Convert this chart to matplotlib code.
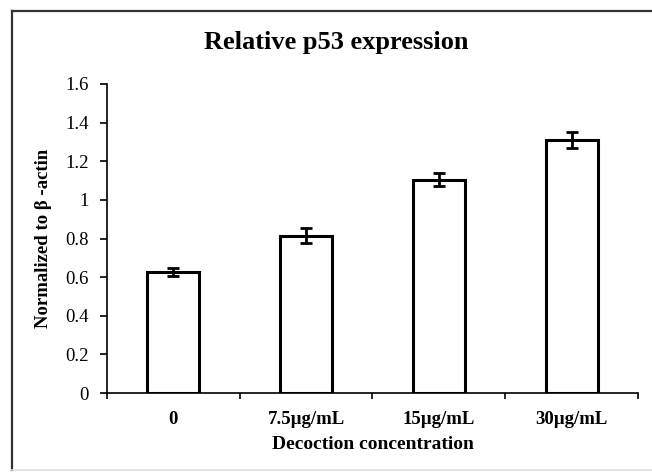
import matplotlib
matplotlib.use("Agg")
import matplotlib.pyplot as plt
from matplotlib.lines import Line2D

categories = ["0", "7.5\u00b5g/mL", "15\u00b5g/mL", "30\u00b5g/mL"]
values = [0.625, 0.815, 1.105, 1.31]
errors = [0.02, 0.04, 0.035, 0.04]
yticks = [0, 0.2, 0.4, 0.6, 0.8, 1.0, 1.2, 1.4, 1.6]
ytick_labels = ["0", "0.2", "0.4", "0.6", "0.8", "1", "1.2", "1.4", "1.6"]

plt.rcParams['font.family'] = ['Liberation Serif', 'DejaVu Serif']

W, H = 652, 474
fig = plt.figure(figsize=(W / 100, H / 100), dpi=100)

# outer frame (chart area border)
fig.add_artist(Line2D([12 / W, 12 / W], [1 - 11 / H, 1 - 470 / H], color="#333333", lw=1.6,
                      transform=fig.transFigure))
fig.add_artist(Line2D([12 / W, 1.0], [1 - 11 / H, 1 - 11 / H], color="#333333", lw=1.6,
                      transform=fig.transFigure))
fig.add_artist(Line2D([12 / W, 1.0], [1 - 470 / H, 1 - 470 / H], color="#dddddd", lw=1.2,
                      transform=fig.transFigure))

ax = fig.add_axes([107 / W, 1 - 393 / H, (638 - 107) / W, (393 - 84) / H])
x = list(range(len(categories)))
ax.bar(x, values, width=0.39, color="white", edgecolor="black", linewidth=2.2, zorder=2)
ax.errorbar(x, values, yerr=errors, fmt="none", ecolor="black", elinewidth=2.0,
            capsize=4, capthick=2.0, zorder=3)

ax.set_xlim(-0.5, len(categories) - 0.5)
ax.set_ylim(0, 1.6)
ax.set_yticks(yticks)
ax.set_yticklabels(ytick_labels, fontsize=13.5)
ax.set_xticks(x)
ax.set_xticklabels(categories, fontsize=13.5, fontweight="bold")
ax.tick_params(axis="x", length=0, pad=13)
ax.tick_params(axis="y", direction="out", length=5, width=1.2, pad=8)
# category separator ticks on x-axis
ax.set_xticks([i + 0.5 for i in range(-1, len(categories))], minor=True)
ax.tick_params(axis="x", which="minor", direction="out", length=4, width=1.2)

for s in ["top", "right"]:
    ax.spines[s].set_visible(False)
ax.spines["left"].set_linewidth(1.2)
ax.spines["bottom"].set_linewidth(1.2)

ax.set_xlabel("Decoction concentration", fontsize=14, fontweight="bold", labelpad=6)
ax.set_ylabel("Normalized to \u03b2 -actin", fontsize=13.5, fontweight="bold", labelpad=10)

fig.text(336 / W, 1 - 43 / H, "Relative p53 expression", fontsize=19, fontweight="bold",
         ha="center", va="center")

fig.savefig("out.png", dpi=100)
